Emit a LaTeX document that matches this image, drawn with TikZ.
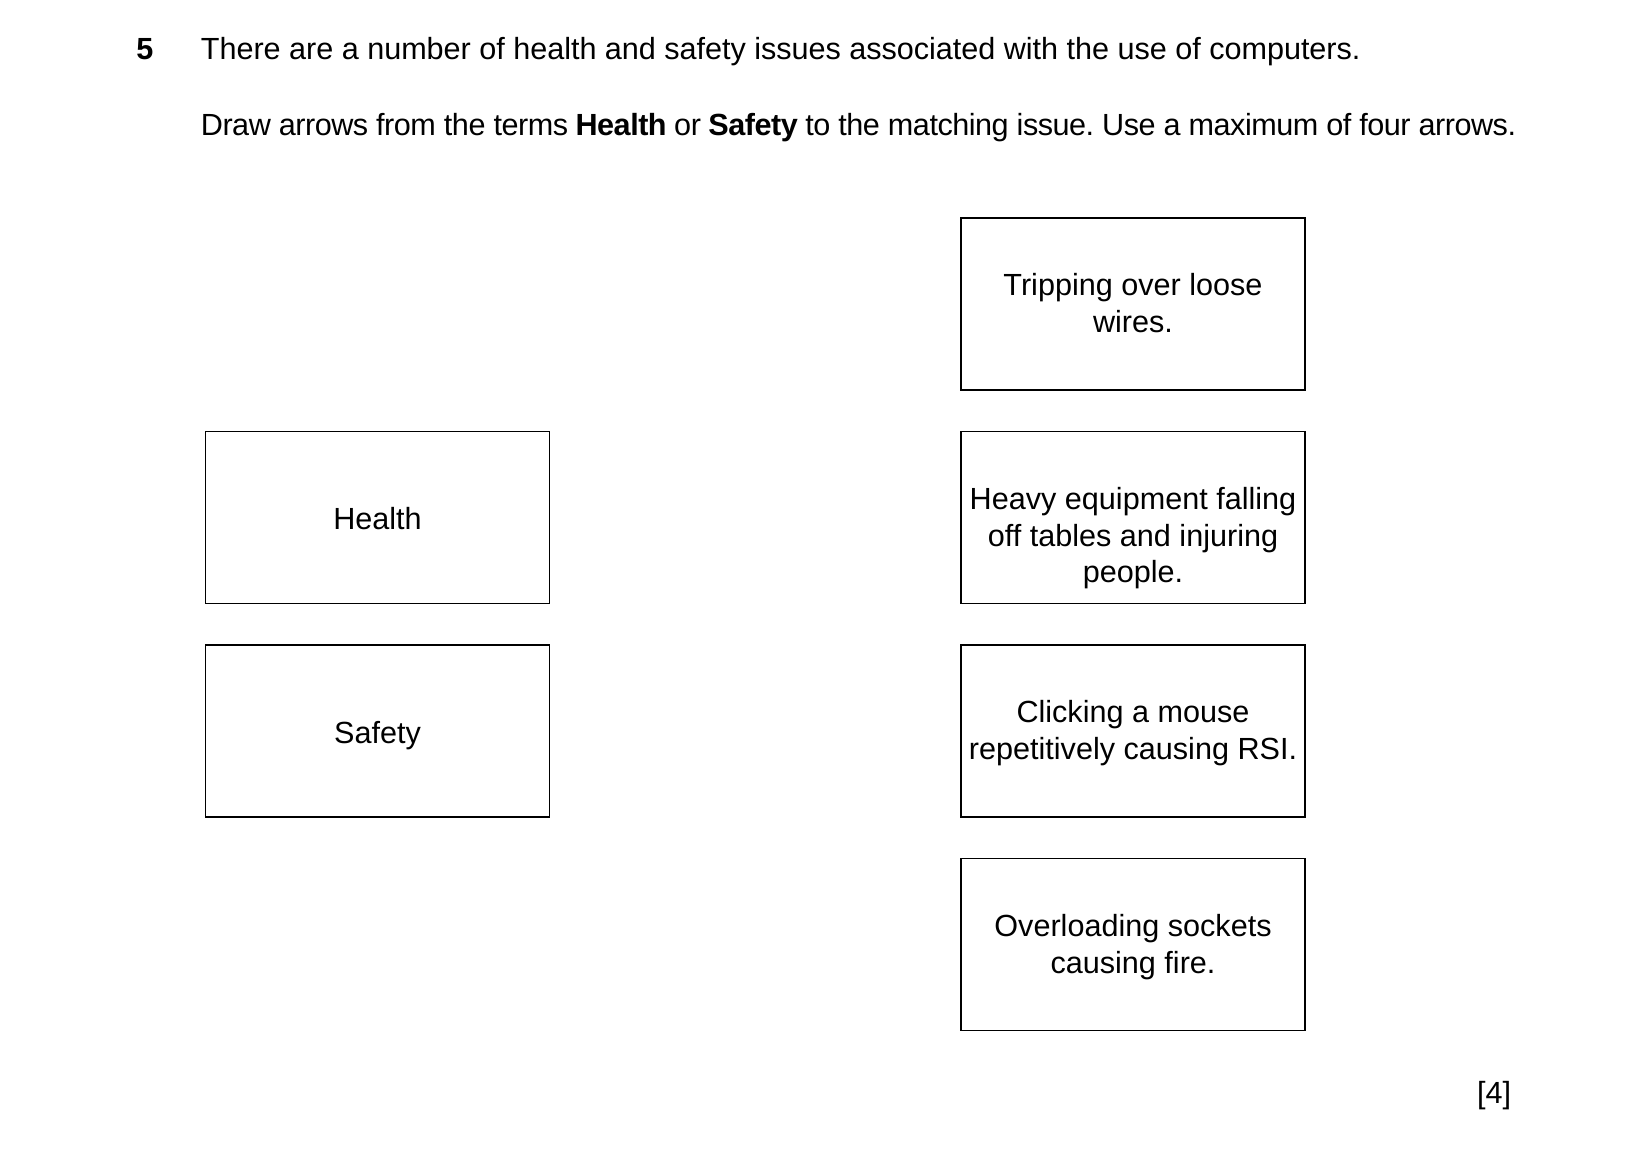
\documentclass[tikz,border=0pt]{standalone}
\usepackage{fontspec}
\setmainfont{Liberation Sans}
\usetikzlibrary{positioning}

\tikzset{
	box/.style={draw, line width=0.75pt, minimum width=171.8pt, minimum height=86pt, inner sep=0pt},
	term/.style={box, text height=1.2em, text depth=0pt},
	issuetext/.style={anchor=north, align=center, inner sep=0pt},
	line/.style={anchor=base west, inner sep=0pt}
}

\begin{document}
\frenchspacing
\begin{tikzpicture}[x=0.5pt, y=-0.5pt, font=\fontsize{15.3}{18.4}\selectfont]
	\useasboundingbox (0,0) rectangle (1652,1159);

	% question
	\node[line] (qnum) at (136,60) {\bfseries 5};
	\node[line] (qline1) at (200.5,60) {\addfontfeature{LetterSpace=-0.1}There are a number of health and safety issues associated with the use of computers.};
	\node[line] (qline2) at (200.5,136) {\addfontfeature{LetterSpace=-1.6}Draw arrows from the terms \textbf{Health} or \textbf{Safety} to the matching issue. Use a maximum of four arrows.};

	% terms
	\node[term] (health) at (377.5,517.5) {Health};
	\node[term] (safety) at (377.5,731) {Safety};

	% issues
	\node[box] (trip) at (1133,304) {};
	\node[issuetext, below=28pt of trip.north] (triptext) {Tripping over loose\\wires.};

	\node[box] (heavy) at (1133,517.5) {};
	\node[issuetext, below=28pt of heavy.north] (heavytext) {Heavy equipment falling\\off tables and injuring\\people.};

	\node[box] (mouse) at (1133,731) {};
	\node[issuetext, below=28pt of mouse.north] (mousetext) {Clicking a mouse\\repetitively causing RSI.};

	\node[box] (socket) at (1133,944.5) {};
	\node[issuetext, below=28pt of socket.north] (sockettext) {Overloading sockets\\causing fire.};

	% marks
	\node[anchor=base east, inner sep=0pt] (marks) at (1511.5,1103) {[4]};
\end{tikzpicture}
\end{document}
